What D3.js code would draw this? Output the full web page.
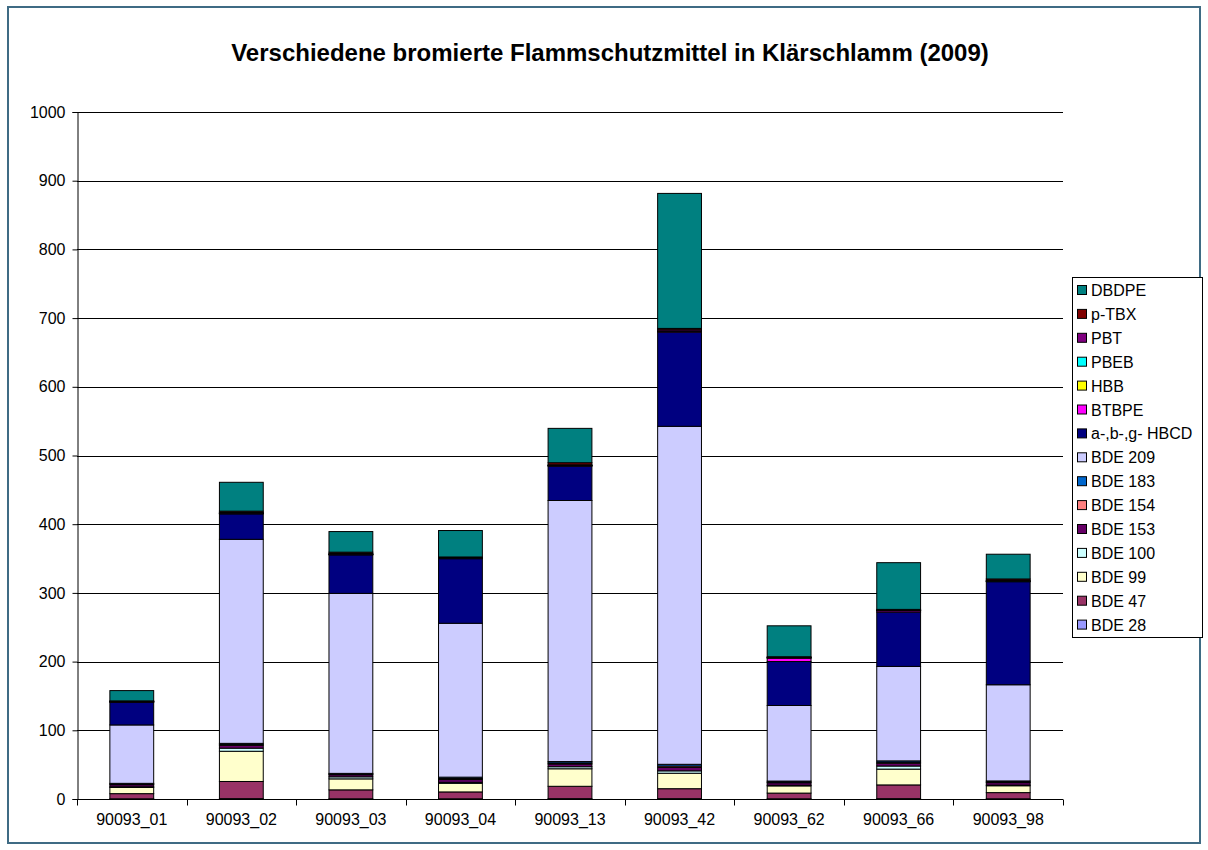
<!DOCTYPE html>
<html>
<head>
<meta charset="utf-8">
<script src="https://cdn.jsdelivr.net/npm/d3@7"></script>
<style>
  body { margin: 0; background: #fff; }
  text { font-family: "Liberation Sans", Arial, sans-serif; }
</style>
</head>
<body>
<div id="chart"></div>
<script>
// samples on the x axis
var categories = ['90093_01', '90093_02', '90093_03', '90093_04', '90093_13', '90093_42', '90093_62', '90093_66', '90093_98'];

// series, bottom of the stack first
var seriesNames = ['BDE 28', 'BDE 47', 'BDE 99', 'BDE 100', 'BDE 153', 'BDE 154', 'BDE 183', 'BDE 209',
    'a-,b-,g- HBCD', 'BTBPE', 'HBB', 'PBEB', 'PBT', 'p-TBX', 'DBDPE'];

var bde28  = [0.3, 0.5, 0.3, 0.3, 0.5, 0.5, 0.3, 0.5, 0.3];
var bde47  = [7.5, 25, 13, 10, 18, 14.5, 8.3, 20, 9];
var bde99  = [9, 44, 16, 12.5, 25.5, 22.5, 10.5, 23, 10];
var bde100 = [1, 4.5, 3, 1.5, 3, 3.5, 1, 4.5, 1];
var bde153 = [3, 4, 3, 4, 4, 5, 3.5, 4, 3.5];
var bde154 = [1, 1.5, 1, 1.5, 1.5, 2, 1, 1.5, 1];
var bde183 = [1, 1.5, 1, 2, 2, 2.5, 1.5, 2, 1.5];
var bde209 = [85, 297, 262, 224, 380, 492, 110, 137.5, 140];
var hbcd   = [33, 37, 56, 94, 50, 137, 64, 79, 150];
var btbpe  = [0.5, 0.5, 0.5, 0.5, 0.5, 1, 5, 2, 0.5];
var hbb    = [0.3, 0.3, 0.3, 0.3, 0.3, 0.3, 0.3, 0.3, 0.3];
var pbeb   = [0.2, 0.2, 0.2, 0.2, 0.2, 0.2, 0.2, 0.2, 0.2];
var pbt    = [0.5, 1, 1, 0.5, 1, 2, 0.5, 0.5, 1];
var ptbx   = [0.5, 2, 2, 1, 3, 2, 1, 1, 2];
var dbdpe  = [15, 42, 30, 38.5, 50, 196.5, 45, 68, 36];

var yTicks = [0, 100, 200, 300, 400, 500, 600, 700, 800, 900, 1000];

var seriesValues = [bde28, bde47, bde99, bde100, bde153, bde154, bde183, bde209,
    hbcd, btbpe, hbb, pbeb, pbt, ptbx, dbdpe];

var colors = ['#9999FF', '#993366', '#FFFFCC', '#CCFFFF', '#660066', '#FF8080', '#0066CC', '#CCCCFF',
    '#000080', '#FF00FF', '#FFFF00', '#00FFFF', '#800080', '#800000', '#008080'];

var width = 1208,
    height = 850;

var margin = {left: 77, right: 1063, top: 112, bottom: 799};

// one row per category for d3.stack
var rows = categories.map(function(c, i) {
    var row = {category: c};
    seriesNames.forEach(function(s, j) { row[s] = seriesValues[j][i]; });
    return row;
});

var stacked = d3.stack().keys(seriesNames)(rows);

var svg = d3.select('#chart').append('svg')
    .attr('width', width)
    .attr('height', height);

// outer frame
svg.append('rect')
    .attr('x', 8)
    .attr('y', 7)
    .attr('width', 1192)
    .attr('height', 836)
    .attr('fill', '#fff')
    .attr('stroke', '#3f6b84')
    .attr('stroke-width', 2);

svg.append('text')
    .attr('x', 610)
    .attr('y', 61)
    .attr('text-anchor', 'middle')
    .style('font-size', '24px')
    .style('font-weight', 'bold')
    .text('Verschiedene bromierte Flammschutzmittel in Klärschlamm (2009)');

var x = d3.scaleBand()
    .domain(categories)
    .range([margin.left, margin.right])
    .paddingInner(0.6)
    .paddingOuter(0.3);

var y = d3.scaleLinear()
    .domain([0, 1000])
    .range([margin.bottom, margin.top]);

// gridlines
svg.append('g')
    .selectAll('line')
    .data(yTicks.slice(1))
    .enter().append('line')
    .attr('x1', margin.left)
    .attr('x2', margin.right)
    .attr('y1', function(d) { return Math.round(y(d)) + 0.5; })
    .attr('y2', function(d) { return Math.round(y(d)) + 0.5; })
    .attr('stroke', '#000')
    .attr('stroke-width', 1);

// bars
svg.append('g')
    .selectAll('g')
    .data(stacked)
    .enter().append('g')
    .attr('fill', function(d, i) { return colors[i]; })
    .selectAll('rect')
    .data(function(d) { return d; })
    .enter().append('rect')
    .attr('x', function(d) { return x(d.data.category); })
    .attr('y', function(d) { return y(d[1]); })
    .attr('width', x.bandwidth())
    .attr('height', function(d) { return y(d[0]) - y(d[1]); })
    .attr('stroke', '#000')
    .attr('stroke-width', 1);

// y axis
var yAxis = svg.append('g')
    .attr('transform', 'translate(' + (margin.left + 0.5) + ',0)')
    .call(d3.axisLeft(y).tickValues(yTicks).tickSize(5).tickPadding(7).tickFormat(d3.format('d')));
yAxis.selectAll('text').style('font-size', '16px').attr('fill', '#000');
yAxis.selectAll('line, path').attr('stroke', '#000');

// x axis, ticks between categories
var xAxis = svg.append('g')
    .attr('transform', 'translate(0,' + (margin.bottom + 0.5) + ')');
xAxis.append('line')
    .attr('x1', margin.left)
    .attr('x2', margin.right)
    .attr('stroke', '#000');
xAxis.selectAll('.tick')
    .data(d3.range(categories.length + 1))
    .enter().append('line')
    .attr('class', 'tick')
    .attr('x1', function(i) { return Math.round(margin.left + i * x.step()) + 0.5; })
    .attr('x2', function(i) { return Math.round(margin.left + i * x.step()) + 0.5; })
    .attr('y1', 0)
    .attr('y2', 6)
    .attr('stroke', '#000');
xAxis.selectAll('.lbl')
    .data(categories)
    .enter().append('text')
    .attr('class', 'lbl')
    .attr('x', function(d) { return x(d) + x.bandwidth() / 2; })
    .attr('y', 25)
    .attr('text-anchor', 'middle')
    .style('font-size', '16px')
    .text(function(d) { return d; });

// legend, top series first
var legend = svg.append('g');
legend.append('rect')
    .attr('x', 1072.5)
    .attr('y', 277.5)
    .attr('width', 130)
    .attr('height', 360)
    .attr('fill', '#fff')
    .attr('stroke', '#000');

var items = legend.selectAll('.item')
    .data(seriesNames.slice().reverse())
    .enter().append('g')
    .attr('class', 'item')
    .attr('transform', function(d, i) { return 'translate(1077,' + (290 + i * 23.9) + ')'; });

items.append('rect')
    .attr('x', 0.5)
    .attr('y', -4.5)
    .attr('width', 9)
    .attr('height', 9)
    .attr('fill', function(d) { return colors[seriesNames.indexOf(d)]; })
    .attr('stroke', '#000');

items.append('text')
    .attr('x', 14)
    .attr('y', 6)
    .style('font-size', '16px')
    .text(function(d) { return d; });
</script>
</body>
</html>
